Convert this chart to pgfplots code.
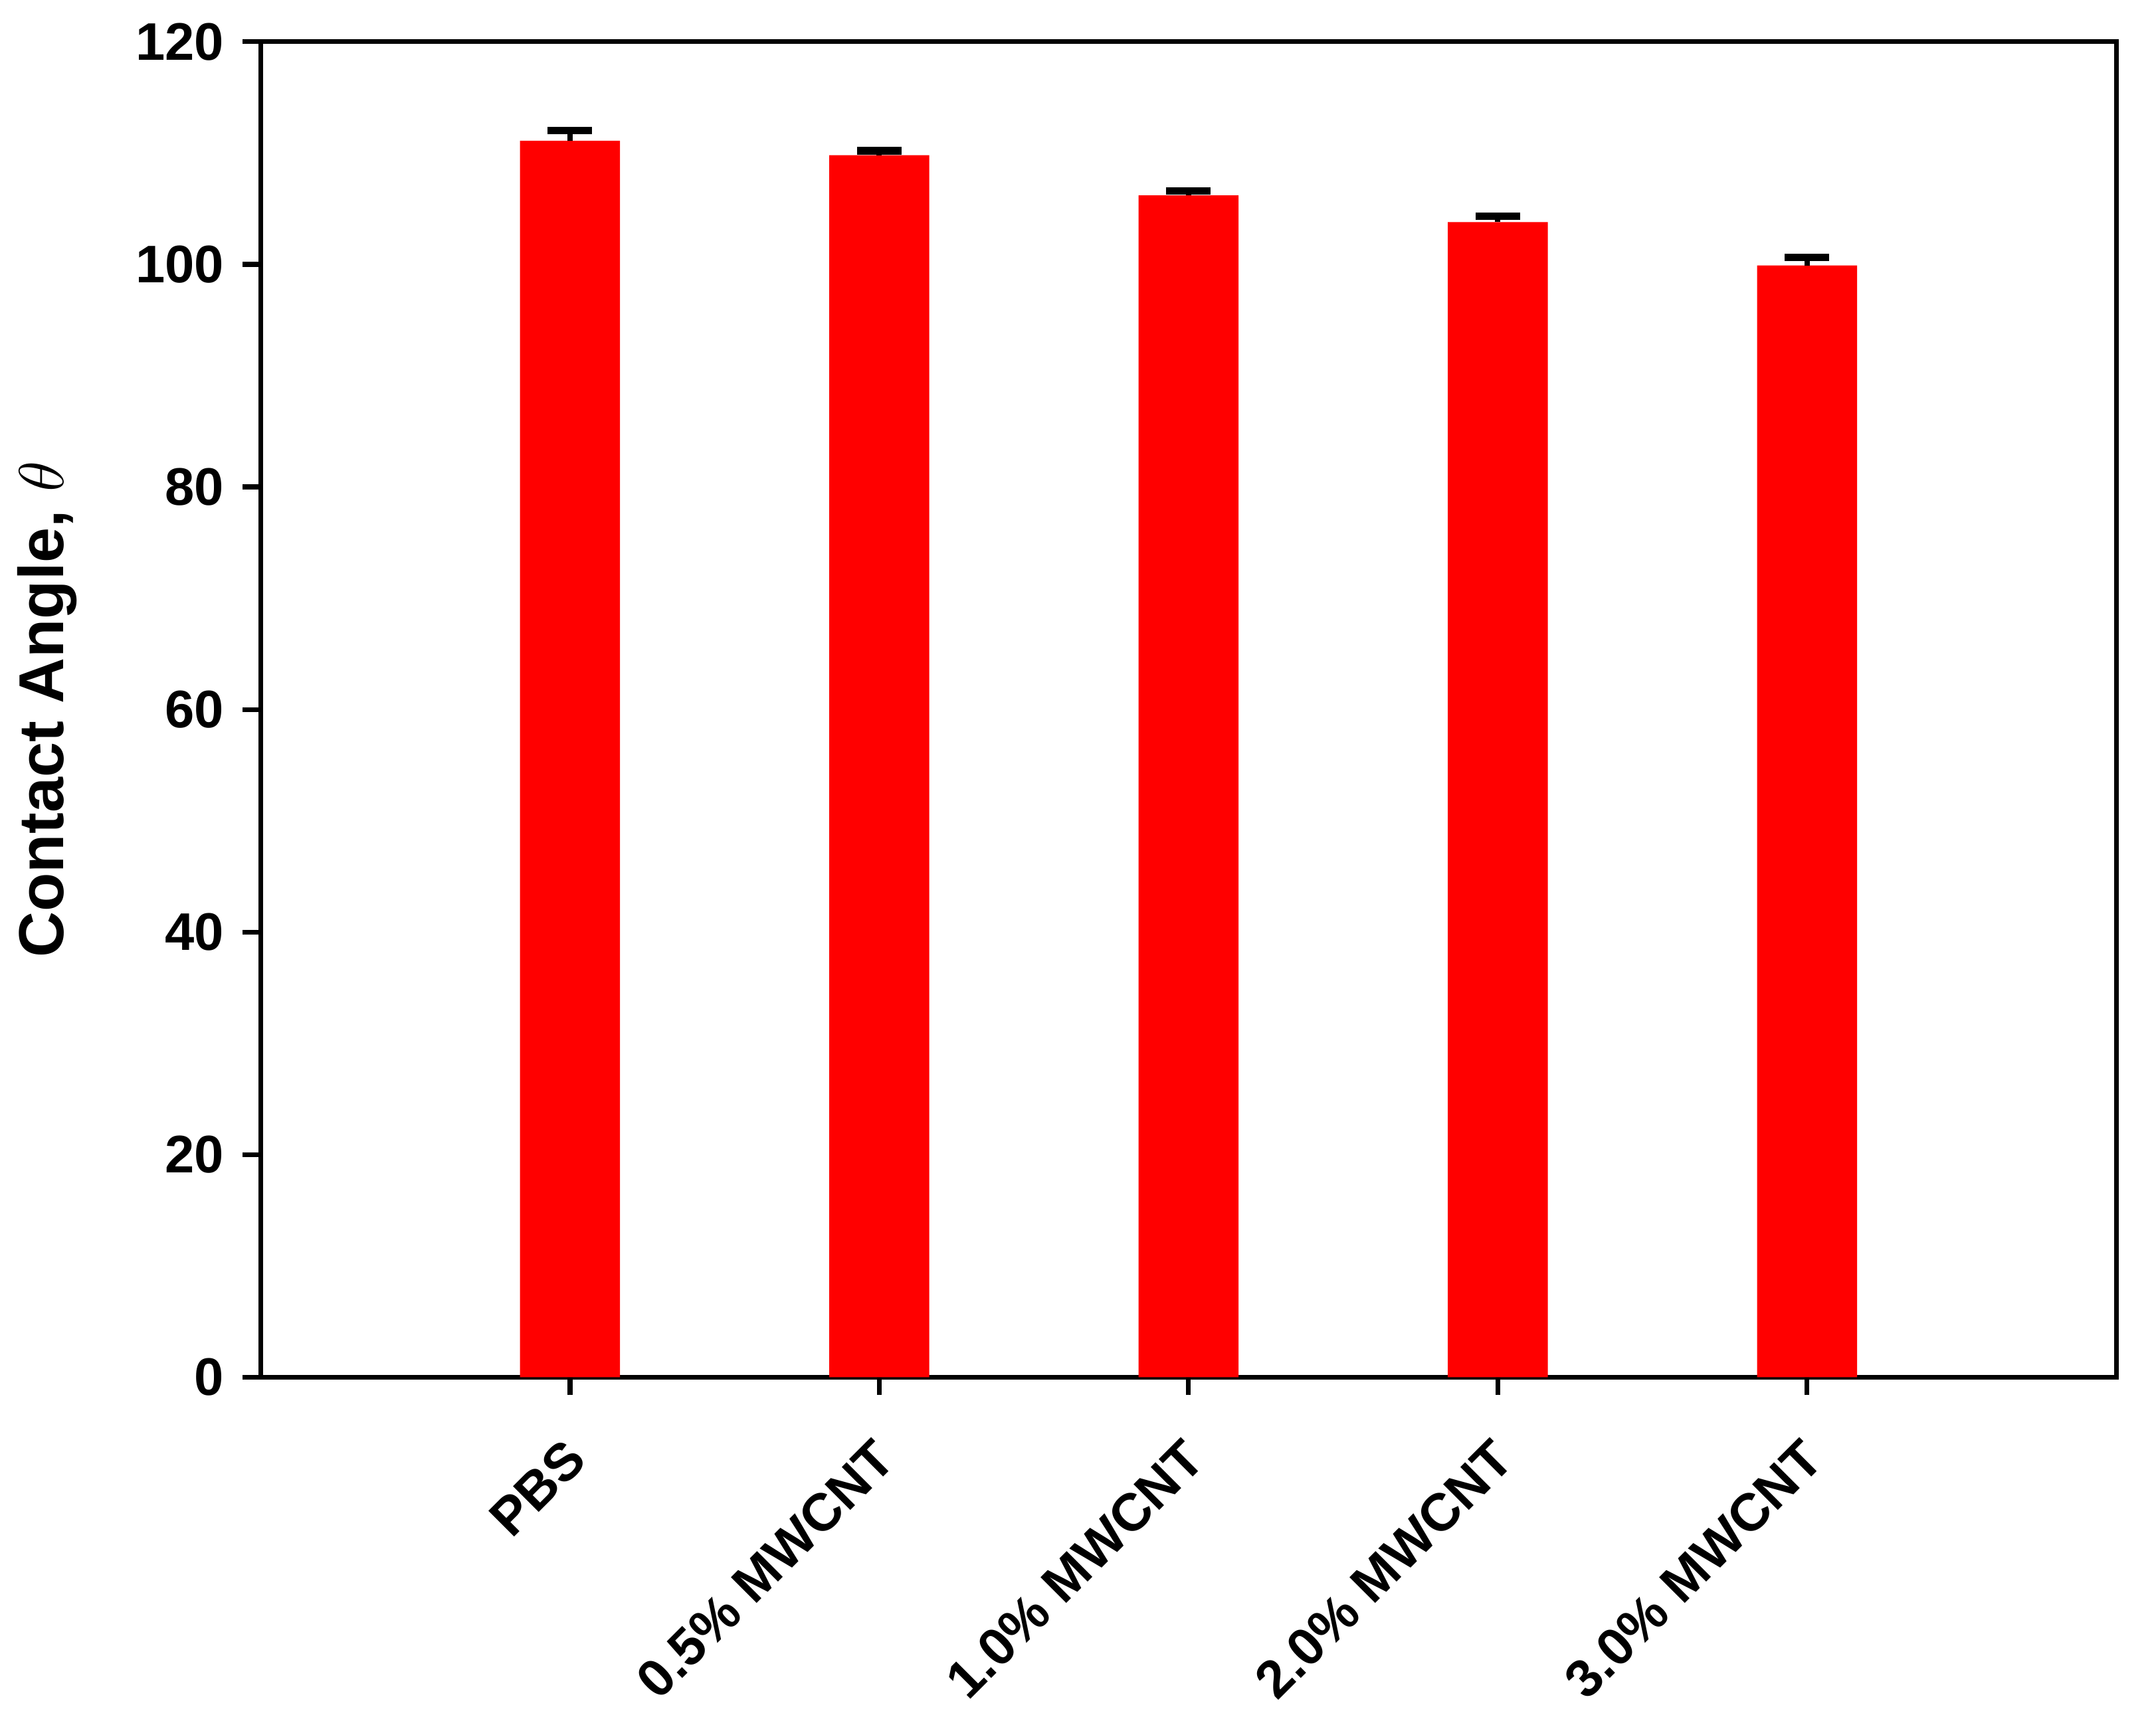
\documentclass[border=0pt]{standalone}
\usepackage{fontspec}
\setmainfont{Liberation Sans}
\usepackage{pgfplots}
\pgfplotsset{compat=1.18}
\begin{document}
\begin{tikzpicture}
\begin{axis}[
  scale only axis, width=350.9pt, height=252.6pt,
  xmin=-1, xmax=5, ymin=0, ymax=120,
  ytick={0,20,...,120},
  xtick={0,...,4},
  xticklabels={PBS, 0.5\% MWCNT, 1.0\% MWCNT, 2.0\% MWCNT, 3.0\% MWCNT},
  x tick label style={rotate=45, anchor=north east, xshift=-3pt, yshift=-1pt,
    font=\fontsize{10}{12}\selectfont\bfseries},
  y tick label style={font=\fontsize{10}{12}\selectfont\bfseries},
  /pgf/number format/assume math mode=true,
  tick align=outside, tick pos=left, major tick length=3.4pt,
  axis line style={line width=0.9pt},
  every tick/.style={black, line width=0.9pt},
  ylabel={Contact Angle, $\theta$},
  ylabel style={font=\fontsize{12}{14}\selectfont\bfseries,
    at={(axis description cs:-0.115,0.5)}, anchor=center},
  ybar, bar width=18.9pt,
]
\addplot[fill=red, draw=none,
  error bars/.cd, y dir=plus, y explicit,
  error bar style={draw=black, line width=1pt},
  error mark options={rotate=90, draw=black, mark size=4.2pt, line width=1.4pt}]
  coordinates {
    (0,111.1) +- (0,0.9)
    (1,109.8) +- (0,0.4)
    (2,106.2) +- (0,0.4)
    (3,103.8) +- (0,0.5)
    (4,99.9)  +- (0,0.7)
  };
\end{axis}
\path ([shift={(-47.25pt,-58.4pt)}]current axis.south west) rectangle ([shift={(7.5pt,7.9pt)}]current axis.north east);
\end{tikzpicture}
\end{document}
